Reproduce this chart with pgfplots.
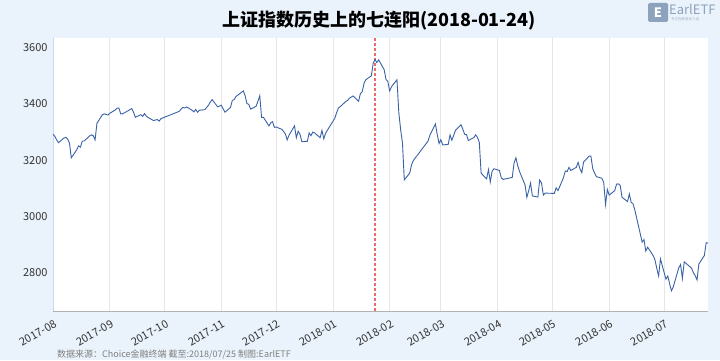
\documentclass[border=0pt]{standalone}
\usepackage{pgfplots}
\pgfplotsset{compat=1.18}
\usepackage{fontspec}
\setmainfont{Noto Sans CJK SC}
\definecolor{bgc}{HTML}{EAF3FB}
\definecolor{linec}{HTML}{3A62A7}
\definecolor{gridc}{HTML}{E6E6E6}
\definecolor{logoc}{HTML}{8DA2BC}
\definecolor{txtc}{HTML}{333333}
\definecolor{redc}{RGB}{240,105,105}
\definecolor{yaxc}{HTML}{C4DAEE}
\begin{document}
\begin{tikzpicture}[x=1bp,y=1bp]
\fill[bgc] (0,0) rectangle (720,360);
\useasboundingbox (0,0) rectangle (720,360);
\begin{axis}[
  at={(53bp,49bp)}, anchor=south west,
  scale only axis, width=655bp, height=273bp,
  xmin=0, xmax=358, ymin=2661, ymax=3636,
  axis background/.style={fill=white},
  axis x line=bottom, axis y line=left,
  x axis line style={draw=gray!60,-},
  y axis line style={draw=yaxc,-, line width=1pt},
  major tick length=0pt,
  xtick={0,31,61,92,122,153,184,212,243,273,304,334},
  xticklabels={2017-08,2017-09,2017-10,2017-11,2017-12,2018-01,2018-02,2018-03,2018-04,2018-05,2018-06,2018-07},
  ytick={2800,3000,3200,3400,3600},
  xmajorgrids, grid style={draw=gridc, line width=0.8pt},
  /pgf/number format/assume math mode=true,
  /pgf/number format/1000 sep={},
  tick label style={font=\fontsize{11bp}{13bp}\selectfont, text=txtc},
  xticklabel style={rotate=30, anchor=north east, yshift=-4bp},
  yticklabel style={xshift=-2bp},
  clip=false,
]
\addplot[color=redc, line width=1.25pt, dash pattern=on 3bp off 2bp, mark=none, forget plot] coordinates {(176,2661) (176,3636)};
\addplot[color=linec, line width=0.9pt] coordinates {
(0,3292)(1,3285)(2,3272)(3,3262)(6,3279)(7,3281)(8,3275)(9,3261)(10,3208)(13,3237)(14,3251)(15,3246)(16,3268)(17,3268)(20,3286)(21,3290)(22,3287)(23,3272)(24,3331)(27,3362)(28,3365)(29,3363)(30,3361)
(31,3367)(34,3379)(35,3385)(36,3386)(37,3365)(38,3365)(41,3376)(42,3380)(43,3384)(44,3371)(45,3353)(48,3362)(49,3356)(50,3366)(51,3357)(52,3352)(55,3341)(56,3343)(57,3345)(58,3339)(59,3348)
(69,3374)(70,3382)(71,3388)(72,3386)(73,3390)(76,3378)(77,3372)(78,3381)(79,3371)(80,3378)(83,3380)(84,3388)(85,3396)(86,3408)(87,3416)(90,3390)(91,3393)
(92,3396)(93,3383)(94,3371)(97,3388)(98,3413)(99,3416)(100,3427)(101,3432)(104,3447)(105,3430)(106,3402)(107,3399)(108,3382)(111,3392)(112,3410)(113,3430)(114,3352)(115,3353)(118,3322)(119,3333)(120,3337)(121,3317)
(122,3318)(125,3310)(126,3303)(127,3293)(128,3272)(129,3289)(132,3322)(133,3280)(134,3303)(135,3292)(136,3266)(139,3267)(140,3297)(141,3287)(142,3300)(143,3297)(146,3280)(147,3306)(148,3276)(149,3296)(150,3307)
(154,3349)(155,3369)(156,3386)(157,3391)(160,3409)(161,3413)(162,3421)(163,3425)(164,3429)(167,3410)(168,3437)(169,3444)(170,3474)(171,3487)(174,3501)(175,3546)(176,3559)(177,3548)(178,3558)(181,3523)(182,3488)(183,3481)
(184,3447)(185,3462)(188,3487)(189,3370)(190,3309)(191,3262)(192,3129)(195,3154)(196,3184)(197,3199)(205,3268)(206,3289)(209,3329)(210,3292)(211,3259)
(212,3273)(213,3254)(216,3256)(217,3290)(218,3271)(219,3288)(220,3307)(223,3326)(224,3310)(225,3292)(226,3291)(227,3270)(230,3280)(231,3290)(232,3281)(233,3263)(234,3153)(237,3133)(238,3166)(239,3122)(240,3160)(241,3169)
(244,3163)(245,3137)(246,3131)(251,3138)(252,3190)(253,3208)(254,3180)(255,3159)(258,3111)(259,3067)(260,3091)(261,3118)(262,3072)(265,3068)(266,3129)(267,3118)(268,3075)(269,3082)
(274,3081)(275,3101)(276,3091)(279,3137)(280,3161)(281,3159)(282,3174)(283,3163)(286,3174)(287,3192)(288,3169)(289,3155)(290,3193)(293,3214)(294,3214)(295,3169)(296,3154)(297,3141)(300,3135)(301,3120)(302,3041)(303,3095)
(304,3075)(307,3091)(308,3114)(309,3115)(310,3110)(311,3067)(314,3052)(315,3079)(316,3049)(317,3044)(318,3022)(322,2907)(323,2916)(324,2875)(325,2889)(328,2859)(329,2844)(330,2813)(331,2786)(332,2847)
(335,2775)(336,2786)(337,2759)(338,2733)(339,2747)(342,2815)(343,2827)(344,2777)(345,2837)(346,2831)(349,2814)(350,2798)(351,2787)(352,2772)(353,2829)(356,2859)(357,2905)(358,2903)
};
\end{axis}
\node[font=\fontsize{18bp}{21bp}\selectfont\bfseries, text=black] at (379,339) {上证指数历史上的七连阳(2018-01-24)};
\node[anchor=west, font=\fontsize{9bp}{11bp}\selectfont, text=gray, inner sep=0pt] at (57,6) {数据来源：Choice金融终端 截至:2018/07/25 制图:EarlETF};
\fill[logoc, rounded corners=1.5bp] (648,338) rectangle (668,357);
\node[text=white, font=\fontsize{13bp}{13bp}\selectfont\bfseries, inner sep=0pt] at (658,347.5) {E};
\node[anchor=west, text=logoc, font=\fontsize{13bp}{13bp}\selectfont, inner sep=0pt] at (669,351) {EarlETF};
\node[anchor=west, text=logoc!80, font=\fontsize{3.5bp}{4bp}\selectfont, inner sep=0pt] at (671,340.5) {专注指数基金之道};
\end{tikzpicture}
\end{document}
